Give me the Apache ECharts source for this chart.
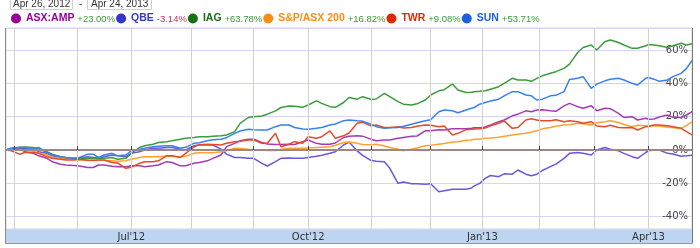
<!DOCTYPE html>
<html><head><meta charset="utf-8">
<script src="https://cdn.jsdelivr.net/npm/echarts@6/dist/echarts.min.js"></script>
<style>html,body{margin:0;padding:0;background:#fff;overflow:hidden}#c{width:700px;height:248px}</style>
</head><body><div id="c"></div>
<script>
// ---- data ----
const rangeStart = '2012-04-26';
const rangeEnd = '2013-04-24';
const rangeLabels = ['Apr 26, 2012', 'Apr 24, 2013'];
const holidays = ['2012-06-11','2012-12-25','2012-12-26','2013-01-01','2013-01-28','2013-03-29','2013-04-01'];
const labelMonths = [0, 3, 6, 9]; // Jan, Apr, Jul, Oct
const monthNames = ['Jan','Feb','Mar','Apr','May','Jun','Jul','Aug','Sep','Oct','Nov','Dec'];
const sampleDates = [
 '2012-04-26',
 '2012-04-30','2012-05-03','2012-05-07','2012-05-10','2012-05-14','2012-05-17','2012-05-21','2012-05-24','2012-05-28','2012-05-31',
 '2012-06-04','2012-06-07','2012-06-12','2012-06-14','2012-06-18','2012-06-21','2012-06-25','2012-06-28','2012-07-02','2012-07-05',
 '2012-07-09','2012-07-12','2012-07-16','2012-07-19','2012-07-23','2012-07-26','2012-07-30','2012-08-02','2012-08-06','2012-08-09',
 '2012-08-13','2012-08-16','2012-08-20','2012-08-23','2012-08-27','2012-08-30','2012-09-03','2012-09-06','2012-09-10','2012-09-13',
 '2012-09-17','2012-09-20','2012-09-24','2012-09-27','2012-10-01','2012-10-04','2012-10-08','2012-10-11','2012-10-15','2012-10-18',
 '2012-10-22','2012-10-25','2012-10-29','2012-11-01','2012-11-05','2012-11-08','2012-11-12','2012-11-15','2012-11-19','2012-11-22',
 '2012-11-26','2012-11-29','2012-12-03','2012-12-06','2012-12-10','2012-12-13','2012-12-17','2012-12-20','2012-12-24','2012-12-27',
 '2012-12-31','2013-01-03','2013-01-07','2013-01-10','2013-01-14','2013-01-17','2013-01-21','2013-01-24','2013-01-29','2013-01-31',
 '2013-02-04','2013-02-07','2013-02-11','2013-02-14','2013-02-18','2013-02-21','2013-02-25','2013-02-28','2013-03-04','2013-03-07',
 '2013-03-11','2013-03-14','2013-03-18','2013-03-21','2013-03-25','2013-03-28','2013-04-02','2013-04-04','2013-04-08','2013-04-11',
 '2013-04-15','2013-04-18','2013-04-22','2013-04-24'];
const seriesNames = ['ASX:AMP','QBE','IAG','S&P/ASX 200','TWR','SUN'];
const seriesChanges = ['+23.00%','-3.14%','+63.78%','+16.82%','+9.08%','+53.71%'];
const amp = [0,
 0.8,0.5, -1,-2, -3.5,-5, -7,-8.5, -9,-9.3, -9.6,-10.5, -10.5,-9, -9,-9.8, -10,-10, -9.5,-9.5,
 -10,-9.5, -9,-7, -7.5,-9.5, -9.5,-8, -7.5,-6.5, -5,-3, 2,4, 5.5,6.5, 6.5,4.5, 3.6,3.3,
 3.3,3.5, 3.3,5, 6,4, 3.5,3.5, 4.2,7.5, 8.2,8.5, 8.3,6.5, 5.5,6, 6,7, 7.5,8.2,
 8.4,11.5, 11.5,12.2, 12,12.8, 12.8,12.8, 13,13.3, 13.3,13.8, 15,17, 18,20.5, 21.5,23.5, 23,24,
 24.2,23.5, 23.2,26.5, 28,26, 25,26.5, 23.6,25, 24.8,22, 19.5,20, 18,19, 18.5,18.6, 19.8,21,
 19.6,19.5, 21,23.0];
const qbe = [0,
 0.8,1, 0.8,0.5, -1,-2, -3.5,-4.5, -5,-5.5, -5,-4, -4.5,-5, -4,-3, -3.5,-4, -2,-1,
 0,1, 1,1.5, 1.5,0.5, 0,2.5, 3,3, 3,0.5, -2.5,-4.5, -4.5,-5, -5,-8, -9.6,-7,
 -5,-4.8, -5,-5, -4.5,-3.8, -3.2,-2, -1,3, 4.8,-0.5, -3.2,-6.2, -6.8,-7, -11,-20, -19.2,-20.2,
 -20.2,-20.5, -20.2,-25, -24.5,-23.5, -23.6,-23.5, -22.8,-21.5, -20,-17, -15.3,-16, -14.3,-14.5, -12,-14.5, -15.5,-14.5,
 -12.3,-10, -8.5,-5, -2,-1.5, -2,-3, 0,1.5, 0.4,-0.5, -2,-4, -5,-1.5, -0.5,0, 0,-2,
 -2.4,-3.8, -3.5,-3.14];
const iag = [0,
 1,1.6, 1.8,1.5, 0.5,-1, -2.5,-4, -4.5,-5, -5,-5, -5,-5, -5,-4.5, -5.5,-5, -2,1.5,
 2.5,3.5, 4.5,5, 5.5,6.5, 7,7.5, 8,8, 8.2,8.5, 9,11, 16,19.5, 20,20.4, 21.5,23.5,
 25.5,26.4, 26.3,25.6, 27,29.5, 28,26, 25.6,28.5, 31.5,30.5, 32,30.5, 30.6,34, 32,29, 27.5,27,
 27.7,30, 33,35.5, 36.2,39.6, 36,34.5, 34.6,35, 35.2,35.5, 36.5,38, 40,43, 42,42, 41.2,43,
 44.5,46, 47,49, 51.5,58.5, 61.5,63, 60,65, 66,64.5, 63,61, 61,62.5, 63.3,63, 62.5,61.5,
 62.5,64, 63,63.78];
const asx200 = [0,
 0.3,0.3, 0,-0.8, -1.8,-3, -4.3,-5, -5.5,-5.6, -6,-6, -6,-6, -6.2,-6.5, -6.8,-6.5, -5.5,-4.5,
 -4,-4, -4,-3.6, -3.8,-4.2, -3.8,-2, -1.7,-1.6, -1.6,-1, -0.4,1, 0.9,0.4, 0.2,-0.2, -0.3,-0.3,
 0.3,1, 1,1, 1.2,1.5, 1.7,2, 2.8,4.5, 4.8,4, 3.3,3.2, 3.4,2.4, 1.5,0.5, -0.4,0.4,
 1.2,2.5, 2.9,3.5, 3.9,4.8, 5,5.8, 6,6.5, 6.5,7, 7.2,7.6, 8.2,9, 9.5,10, 10.8,11.5,
 12.7,13.5, 14.2,15, 15.2,16, 15.7,15, 16.3,17, 17.6,16.5, 15.3,14, 14.8,14.5, 14.2,14.5, 14.4,13.6,
 13.4,13, 14.8,16.82];
const twr = [0,
 -0.5,-2.5, -1.5,-1.5, -2,-4, -5,-5.5, -6,-6, -5.6,-6.2, -6.3,-6, -6,-7.5, -7.8,-11, -10.3,-8,
 -7,-7, -6.5,-3.5, -3.5,-4.5, -2,1.8, 3.2,3.5, 3.3,3, 4,5, 5.3,6, 6,4, 4,10,
 2,3.5, 5,4, 8,7, 8,11.5, 7,8.5, 10.2,16, 16.6,14.5, 15,13.5, 13.5,14, 13.2,13.5,
 14.3,15, 14.8,14, 14.4,9, 10,12.2, 12.4,12.6, 12.7,13.2, 14.5,16, 17.5,13, 13.5,18, 18.8,18,
 17.5,17.5, 18.2,17, 17.5,17, 16,17, 14.4,14, 14.8,13.5, 13.3,13.5, 12,14, 14.2,15, 15,14.5,
 14,13, 11,9.08];
const sun = [0,
 1,1.5, 1.5,1, 1.5,-1.5, -3,-4, -4.5,-5, -4.5,-2.5, -2.5,-4.5, -3,-2, -3.5,-3, -0.5,0.5,
 1,2, 2.3,2.5, 2.5,1, 1.6,4, 4.4,5.5, 6.1,6.4, 7.4,10, 11.4,12.4, 12.1,12, 12,14,
 15,15, 13.5,12.6, 12.5,13, 13.5,15, 15.6,17.6, 18,17.5, 17.2,15.5, 14,13, 13.3,13.5, 14.2,15.5,
 16.3,17.5, 18.2,23, 24,23.5, 22.4,24, 25,25.5, 27.5,28.5, 29.4,30.5, 32.5,35, 35,33, 32.5,30,
 30.5,32.5, 32.8,35, 42.3,43, 44,37, 39.5,41.5, 42.4,43, 42,40, 39,43, 43.5,42.5, 41.2,42,
 44,46, 49,53.71];
const seriesValues = [amp, qbe, iag, asx200, twr, sun];

// ---- styles ----
const lineColors = ['#a63ab5','#6a58e0','#3c9c3c','#ffa030','#e64a2a','#3a7ff0'];
const nameColors = ['#990099','#3535cc','#167016','#ff8c10','#dd2a00','#1a5fe0'];

// trading-day categories
function tradingDays() {
  const out = [];
  let t = Date.parse(rangeStart + 'T00:00:00Z');
  const end = Date.parse(rangeEnd + 'T00:00:00Z');
  while (t <= end) {
    const d = new Date(t);
    const s = d.toISOString().slice(0, 10);
    const w = d.getUTCDay();
    if (w !== 0 && w !== 6 && holidays.indexOf(s) < 0) out.push(s);
    t += 86400000;
  }
  return out;
}
const days = tradingDays();
function isMonthStart(i) { return i > 0 && days[i].slice(0, 7) !== days[i - 1].slice(0, 7); }
function isLabelMonth(i) { return isMonthStart(i) && labelMonths.indexOf(+days[i].slice(5, 7) - 1) >= 0; }

const chart = echarts.init(document.getElementById('c'), null, { renderer: 'canvas' });

const series = seriesNames.map((name, k) => ({
  name, type: 'line', showSymbol: false, symbol: 'none', animation: false,
  lineStyle: { width: 1.5, color: lineColors[k] }, itemStyle: { color: lineColors[k] },
  data: sampleDates.map((d, i) => [d, seriesValues[k][i]]),
  z: 3,
  markLine: k === 0 ? {
    silent: true, symbol: 'none', label: { show: false }, animation: false,
    lineStyle: { color: '#9c8686', width: 2, type: 'solid' },
    data: [{ yAxis: 0 }]
  } : undefined
}));

const legendData = seriesNames.map((name, k) => ({
  name, icon: 'circle',
  itemStyle: { color: nameColors[k] },
  textStyle: { color: nameColors[k] }
}));

chart.setOption({
  animation: false,
  grid: { left: 6, right: 8, top: 28, bottom: 19, show: true, borderColor: '#d4d4d4', borderWidth: 1 },
  legend: {
    left: 11, top: 13, itemWidth: 10, itemHeight: 10, itemGap: 1, padding: 0,
    selectedMode: false,
    data: legendData,
    textStyle: {
      fontFamily: '"Liberation Sans",Arial,sans-serif',
      fontWeight: 'bold', fontSize: 10.5,
      rich: {
        p: { color: '#3a9a3a', fontSize: 9.5, fontWeight: 'normal', fontFamily: '"Liberation Sans",Arial,sans-serif', padding: [1, 0, 0, 0] },
        m: { color: '#cc3366', fontSize: 9.5, fontWeight: 'normal', fontFamily: '"Liberation Sans",Arial,sans-serif', padding: [1, 0, 0, 0] }
      }
    },
    formatter: name => {
      const c = seriesChanges[seriesNames.indexOf(name)];
      return name + ' {' + (c.charAt(0) === '-' ? 'm' : 'p') + '|' + c + '}';
    }
  },
  xAxis: {
    type: 'category', data: days, boundaryGap: false, z: 10,
    axisLine: { show: false },
    axisTick: { show: true, inside: true, length: 4, interval: (i) => isMonthStart(i), lineStyle: { color: '#444', width: 1 } },
    splitLine: { show: true, interval: (i) => isMonthStart(i), lineStyle: { color: '#cfd4cf', width: 1 } },
    axisLabel: {
      show: true, interval: (i) => isLabelMonth(i), margin: 3,
      fontFamily: '"DejaVu Sans",Verdana,sans-serif', fontSize: 10, color: '#333',
      formatter: v => monthNames[+v.slice(5, 7) - 1] + "'" + v.slice(2, 4)
    }
  },
  yAxis: {
    type: 'value', position: 'right', min: -47.4, max: 73.2, splitNumber: 5,
    axisLine: { show: false }, axisTick: { show: false },
    splitLine: { show: true, lineStyle: { color: '#d6d6f2', width: 1 } },
    axisLabel: {
      inside: true, margin: 4, padding: [0, 0, 6, 0],
      fontFamily: '"DejaVu Sans",Verdana,sans-serif', fontSize: 10, color: '#444',
      formatter: v => (Math.abs(v % 20) < 1e-6 ? v + '%' : '')
    }
  },
  graphic: [
    { type: 'rect', z: -10, shape: { x: 6, y: 229, width: 686, height: 14 }, style: { fill: '#bcd5f1' } },
    { type: 'line', z: 5, shape: { x1: 5.5, y1: 28, x2: 5.5, y2: 244 }, style: { stroke: '#8a8a8a', lineWidth: 1 } },
    { type: 'line', z: 5, shape: { x1: 692.5, y1: 28, x2: 692.5, y2: 244 }, style: { stroke: '#777', lineWidth: 1 } },
    { type: 'line', z: 5, shape: { x1: 5, y1: 243.5, x2: 693, y2: 243.5 }, style: { stroke: '#999', lineWidth: 1 } },
    { type: 'rect', shape: { x: 10.5, y: -5.5, width: 62, height: 15 }, style: { fill: '#fff', stroke: '#cfcfcf', lineWidth: 1 } },
    { type: 'rect', shape: { x: 87.5, y: -5.5, width: 64, height: 15 }, style: { fill: '#fff', stroke: '#cfcfcf', lineWidth: 1 } },
    { type: 'text', x: 13, y: 4, style: { text: rangeLabels[0], font: '10px "Liberation Sans",Arial,sans-serif', fill: '#333', verticalAlign: 'middle' } },
    { type: 'text', x: 79, y: 4, style: { text: '-', font: '10px "Liberation Sans",Arial,sans-serif', fill: '#333', verticalAlign: 'middle' } },
    { type: 'text', x: 91, y: 4, style: { text: rangeLabels[1], font: '10px "Liberation Sans",Arial,sans-serif', fill: '#333', verticalAlign: 'middle' } }
  ],
  series
});
</script></body></html>
